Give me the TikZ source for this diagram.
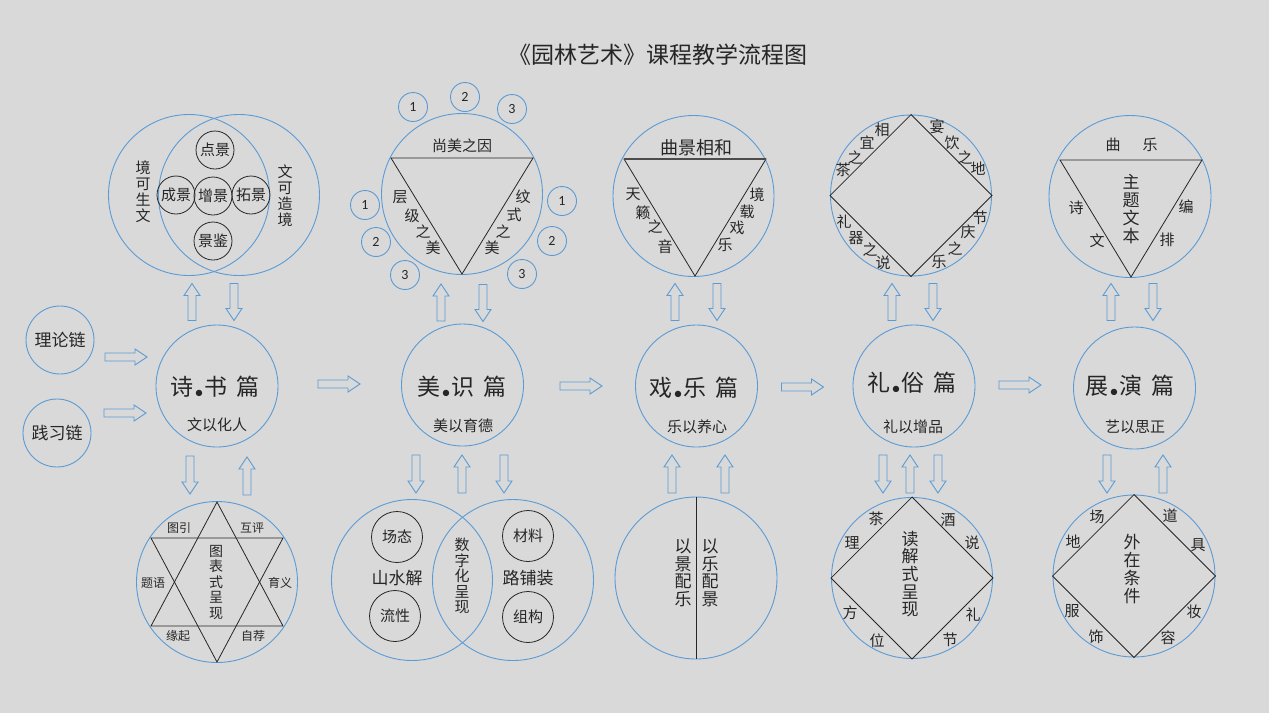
\documentclass[tikz,border=0pt]{standalone}
\usepackage{fontspec}
\setmainfont{Noto Sans CJK SC}
\newfontfamily\numfont{Carlito}
\usetikzlibrary{calc}
\definecolor{bg}{HTML}{D9D9D9}
\definecolor{cblue}{HTML}{5B9BD5}
\newcommand\mydot{\kern1.5pt{\numfont\fontsize{18}{18}\selectfont\raisebox{-3pt}{•}}\kern1.5pt}
\tikzset{
  bcirc/.style={draw=cblue, line width=0.9pt, circle, inner sep=0pt},
  kline/.style={draw=black!85, line width=0.8pt},
  kcirc/.style={draw=black!85, line width=0.8pt, circle, inner sep=0pt},
  arrowline/.style={draw=cblue, line width=0.9pt, line join=miter},
  pics/barrow/.style={code={\draw[arrowline] ({-#1/2},-4) -- ({#1/2-12},-4) -- ({#1/2-12},-8) -- ({#1/2},0) -- ({#1/2-12},8) -- ({#1/2-12},4) -- ({-#1/2},4) -- cycle;}},
  txt/.style={inner sep=0pt, text=black!85, font=\fontsize{#1}{#1}\selectfont},
  vtxt/.style 2 args={inner sep=0pt, text=black!85, align=center, font=\fontsize{#1}{#2}\selectfont},
  numc/.style={bcirc, minimum size=29pt, text=black!85, font=\numfont\fontsize{14}{14}\selectfont},
}
\begin{document}
\begin{tikzpicture}[x=1pt, y=-1pt]
\fill[bg] (0,0) rectangle (1269,713);
\useasboundingbox (0,0) rectangle (1269,713);

% title
\node[txt=23] (title) at (658,55) {《园林艺术》课程教学流程图};

% ===== column 1 =====
\node[bcirc, minimum size=68pt, txt=17] (t1) at (60,340) {理论链};
\node[bcirc, minimum size=68pt, txt=17] (t2) at (57,433) {践习链};
\pic at (126,357) {barrow=42};
\pic at (125,413) {barrow=42};

\node[bcirc, minimum size=122pt] (c1) at (217,386) {};
\node[txt=23] (c1t) at (215,387) {诗\mydot 书\hspace{9pt}篇};
\node[txt=15] (c1s) at (217,425) {文以化人};

\node[bcirc, minimum size=161pt] (v1a) at (189,195) {};
\node[bcirc, minimum size=161pt] (v1b) at (239,195) {};
\node[kcirc, minimum size=38pt, txt=15] (d1) at (215,150) {点景};
\node[kcirc, minimum size=38pt, txt=15] (d2) at (176,195) {成景};
\node[kcirc, minimum size=38pt, txt=15] (d3) at (213,196) {增景};
\node[kcirc, minimum size=38pt, txt=15] (d4) at (251,195) {拓景};
\node[kcirc, minimum size=38pt, txt=15] (d5) at (213,241) {景鉴};
\node[vtxt={15}{16}] (w1) at (143,192) {境\\可\\生\\文};
\node[vtxt={15}{16}] (w2) at (285,196) {文\\可\\造\\境};
\pic[rotate=90] at (192,302) {barrow=37};
\pic[rotate=-90] at (234,302) {barrow=37};

\pic[rotate=-90] at (190,475) {barrow=38};
\pic[rotate=90] at (247,476) {barrow=38};
\node[bcirc, minimum size=161pt] (s1) at (217,582) {};
\draw[kline] (217,502) -- (151,626) -- (283,626) -- cycle;
\draw[kline] (217,662) -- (151,538) -- (283,538) -- cycle;
\foreach [count=\i] \x/\y/\t in {179/528/图引, 252/528/互评, 153/583/题语, 280/583/育义, 178/636/缘起, 253/636/自荐}
  \node[txt=12] (sl\i) at (\x,\y) {\t};
\node[vtxt={14}{15.5}] (s1t) at (216,582) {图\\表\\式\\呈\\现};

\pic at (339,384) {barrow=42};

% ===== column 2 =====
\node[bcirc, minimum size=161pt] (tr2) at (462,194) {};
\draw[kline] (391,158) -- (533,158) -- (462,274) -- cycle;
\node[txt=15] (tr2t) at (462,146) {尚美之因};
\foreach [count=\i] \x/\y/\t in {400/197/层, 412/216/级, 423/232/之, 433/248/美, 523/197/纹, 514/215/式, 503/232/之, 492/248/美}
  \node[txt=15] (ml\i) at (\x,\y) {\t};
\foreach [count=\i] \x/\y/\t in {413/107/1, 465/97/2, 512/109/3, 365/205/1, 376/242/2, 405/275/3, 562/201/1, 552/241/2, 522/274/3}
  \node[numc] (n\i) at (\x,\y) {\t};
\pic[rotate=90] at (441,302.5) {barrow=37};
\pic[rotate=-90] at (483,303) {barrow=37};

\node[bcirc, minimum size=122pt] (c2) at (462.5,385) {};
\node[txt=23] (c2t) at (462,387) {美\mydot 识\hspace{9pt}篇};
\node[txt=15] (c2s) at (463,426) {美以育德};

\pic[rotate=-90] at (416,474) {barrow=38};
\pic[rotate=90] at (462,474) {barrow=38};
\pic[rotate=-90] at (504,474) {barrow=38};
\node[bcirc, minimum size=161pt] (v2a) at (412,580) {};
\node[bcirc, minimum size=161pt] (v2b) at (513,580) {};
\node[kcirc, minimum size=51pt, txt=15] (e1) at (397,537) {场态};
\node[kcirc, minimum size=51pt, txt=15] (e2) at (395,616) {流性};
\node[kcirc, minimum size=51pt, txt=15] (e3) at (528,536) {材料};
\node[kcirc, minimum size=51pt, txt=15] (e4) at (528,617) {组构};
\node[txt=17] (v2l) at (397,578) {山水解};
\node[txt=17] (v2r) at (528,578) {路铺装};
\node[vtxt={15}{15.6}] (v2m) at (462,576) {数\\字\\化\\呈\\现};

\pic at (581,386) {barrow=42};

% ===== column 3 =====
\node[bcirc, minimum size=161pt] (tr3) at (693.5,196) {};
\draw[kline] (624,159) -- (766,159) -- (695,276) -- cycle;
\draw[draw=black!70, line width=1.4pt] (624,159) -- (766,159);
\node[txt=18] (tr3t) at (696,148) {曲景相和};
\foreach [count=\i] \x/\y/\t in {633/194/天, 643/213/籁, 655/227/之, 665/247/音, 757/195/境, 747/212/载, 737/228/戏, 725/245/乐}
  \node[txt=15] (ql\i) at (\x,\y) {\t};
\pic[rotate=90] at (675,302) {barrow=37};
\pic[rotate=-90] at (717,302) {barrow=37};

\node[bcirc, minimum size=122pt] (c3) at (696.5,386) {};
\node[txt=23] (c3t) at (694,388) {戏\mydot 乐\hspace{9pt}篇};
\node[txt=15] (c3s) at (697,427) {乐以养心};

\pic[rotate=90] at (672,474) {barrow=38};
\pic[rotate=90] at (725,474) {barrow=38};
\node[bcirc, minimum size=162pt] (h3) at (696,578) {};
\draw[kline] (h3.north) -- (h3.south);
\node[vtxt={17}{17.5}] (h3l) at (683,573) {以\\景\\配\\乐};
\node[vtxt={17}{17.5}] (h3r) at (710,573) {以\\乐\\配\\景};

\pic at (802.5,387) {barrow=42};

% ===== column 4 =====
\node[bcirc, minimum size=161pt] (dm4) at (911,195.5) {};
\draw[kline] (dm4.north) -- (dm4.east) -- (dm4.south) -- (dm4.west) -- cycle;
\foreach [count=\i] \x/\y/\t in {882/130/相, 867/143/宜, 855/158/之, 843/170/茶, 937/127/宴, 952/143/饮, 965/158/之, 978/169/地, 844/222/礼, 856/238/器, 870/250/之, 883/263/说, 980/218/节, 968/232/庆, 955/249/之, 939/262/乐}
  \node[txt=15] (rl\i) at (\x,\y) {\t};
\pic[rotate=90] at (892,302) {barrow=37};
\pic[rotate=-90] at (933,302) {barrow=37};

\node[bcirc, minimum size=122pt] (c4) at (914,386) {};
\node[txt=23] (c4t) at (912,383) {礼\mydot 俗\hspace{9pt}篇};
\node[txt=15] (c4s) at (913,427) {礼以增品};

\pic[rotate=-90] at (883,474) {barrow=38};
\pic[rotate=90] at (910,474) {barrow=38};
\pic[rotate=-90] at (938,474) {barrow=38};
\node[bcirc, minimum size=161pt] (dd4) at (912,578) {};
\draw[kline] (dd4.north) -- (dd4.east) -- (dd4.south) -- (dd4.west) -- cycle;
\foreach [count=\i] \x/\y/\t in {876/519/茶, 852/543/理, 948/520/酒, 972/543/说, 850/613/方, 877/641/位, 973/615/礼, 950/640/节}
  \node[txt=15] (pl\i) at (\x,\y) {\t};
\node[vtxt={17}{17.6}] (dd4t) at (910,574) {读\\解\\式\\呈\\现};

\pic at (1020,385) {barrow=42};

% ===== column 5 =====
\node[bcirc, minimum size=162pt] (tr5) at (1130,196.5) {};
\draw[kline] (1060,160) -- (1202,160) -- (1131,277) -- cycle;
\foreach [count=\i] \x/\y/\t in {1113/145/曲, 1150/145/乐, 1076/208/诗, 1097/241/文, 1186/207/编, 1167/240/排}
  \node[txt=15] (zl\i) at (\x,\y) {\t};
\node[vtxt={17}{18}] (tr5t) at (1131,209) {主\\题\\文\\本};
\pic[rotate=90] at (1111,302) {barrow=37};
\pic[rotate=-90] at (1153,302) {barrow=37};

\node[bcirc, minimum size=122pt] (c5) at (1134.5,388) {};
\node[txt=23] (c5t) at (1130,386) {展\mydot 演\hspace{9pt}篇};
\node[txt=15] (c5s) at (1135,427) {艺以思正};

\pic[rotate=-90] at (1107,474) {barrow=38};
\pic[rotate=90] at (1163,474) {barrow=38};
\node[bcirc, minimum size=162pt] (dd5) at (1134,576) {};
\draw[kline] (dd5.north) -- (dd5.east) -- (dd5.south) -- (dd5.west) -- cycle;
\foreach [count=\i] \x/\y/\t in {1097/517/场, 1073/542/地, 1170/516/道, 1198/545/具, 1072/611/服, 1096/637/饰, 1194/612/妆, 1168/638/容}
  \node[txt=15] (wl\i) at (\x,\y) {\t};
\node[vtxt={17}{18}] (dd5t) at (1132,569) {外\\在\\条\\件};
\end{tikzpicture}
\end{document}
